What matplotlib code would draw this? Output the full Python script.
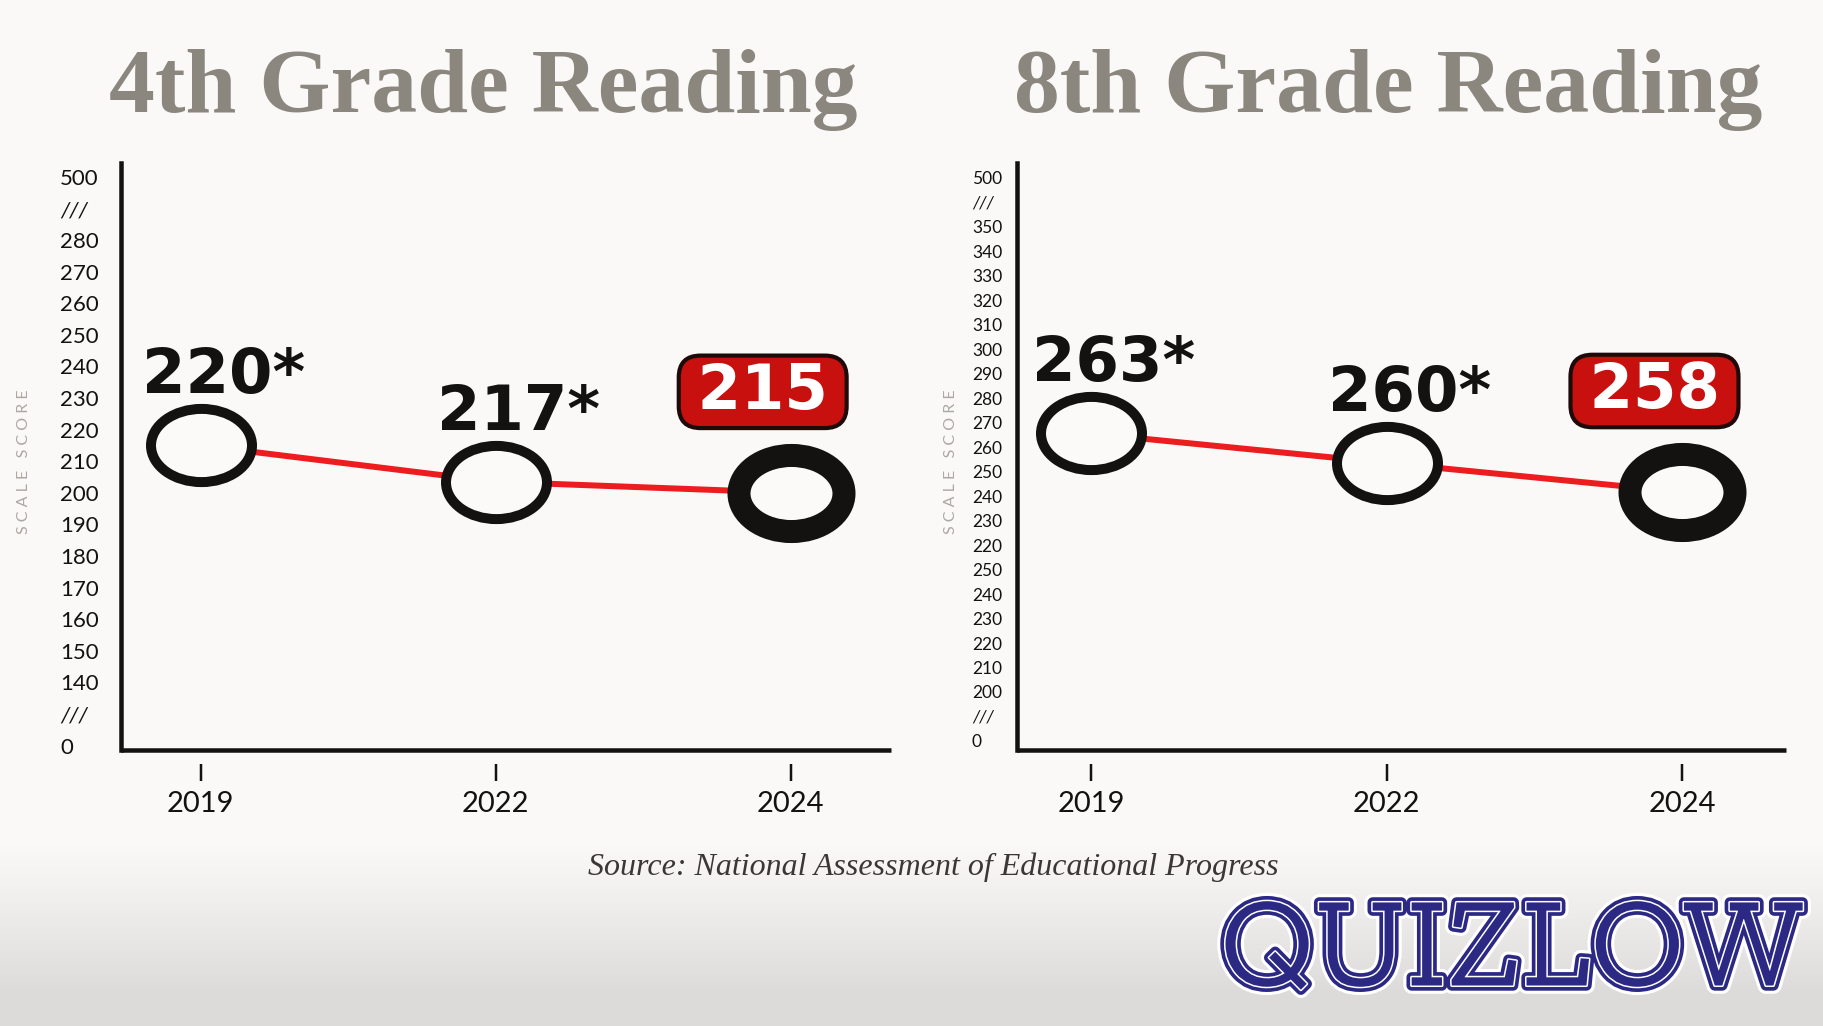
import numpy as np
import matplotlib
matplotlib.use('Agg')
import matplotlib.pyplot as plt
import matplotlib.patheffects as pe
from matplotlib.path import Path
from matplotlib.transforms import Affine2D

# --- data ---
years = ['2019', '2022', '2024']
g4_scores = ['220*', '217*', '215']
g8_scores = ['263*', '260*', '258']
# where the rings sit on the printed (broken, evenly spaced) scale, in tick-slot units
g4_pos = [9.5, 8.35, 8.0]
g8_pos = [12.56, 11.36, 10.17]
g4_ticks = ['0', '///', '140', '150', '160', '170', '180', '190', '200', '210',
            '220', '230', '240', '250', '260', '270', '280', '///', '500']
g8_ticks = ['0', '///', '200', '210', '220', '230', '240', '250', '220', '230',
            '240', '250', '260', '270', '280', '290', '300', '310', '320', '330',
            '340', '350', '///', '500']

W, H = 1824, 1026
BG = '#fbfaf8'
RED = '#ec1c1f'
INK = '#141210'
TITLE_GRAY = '#8b877f'
NUM_FONT = ['DejaVu Sans']
TICK_FONT = ['Lato', 'DejaVu Sans']

fig = plt.figure(figsize=(W / 100, H / 100), dpi=100)
fig.patch.set_facecolor(BG)

# paper background, greying towards the bottom like the photo
bg = fig.add_axes([0, 0, 1, 1], zorder=-10)
rows = np.linspace(0, 1, H)
shade = 0.985 - 0.12 * np.clip((rows - 0.82) / 0.15, 0, 1) ** 1.1
img = np.stack([shade, shade * 0.993, shade * 0.988], axis=-1)[:, None, :].repeat(8, axis=1)
bg.imshow(img, aspect='auto', extent=[0, 1, 0, 1], origin='upper')
bg.axis('off')

ring = Path.unit_circle().transformed(Affine2D().scale(1.38, 1.0))


def px(v):
    return v * 0.72


def draw_panel(rect, title, title_x, ticks, pos, labels, xlim, ylim, tick_size, label_pad):
    ax = fig.add_axes(rect)
    ax.set_facecolor('none')
    # move the tick line down first (this resets the ticks)
    ax.spines['bottom'].set_position(('outward', px(14)))
    ax.spines['bottom'].set_visible(False)
    for s in ['top', 'right']:
        ax.spines[s].set_visible(False)
    ax.spines['left'].set_linewidth(px(4.5))
    ax.spines['left'].set_color(INK)

    x = np.arange(len(years))
    ax.plot(x, pos, color=RED, lw=px(6), zorder=2, solid_capstyle='butt')
    for i in range(len(x)):
        last = i == len(x) - 1
        ax.plot(x[i], pos[i], marker=ring, ms=px(105 if last else 101),
                mew=px(23 if last else 10), mec=INK, mfc=BG, zorder=3, ls='none')
        if last:
            ax.annotate('\u2009' + labels[i] + '\u2009', (x[i], pos[i]), xytext=(px(-28), px(101)),
                        textcoords='offset points', ha='center', va='center',
                        fontsize=45, fontweight='bold', family=NUM_FONT, color='white',
                        zorder=4,
                        bbox=dict(boxstyle='round,pad=0.1,rounding_size=0.35',
                                  fc='#c8100f', ec='#1e0b09', lw=3))
        else:
            ax.annotate(labels[i], (x[i], pos[i]), xytext=(px(23), px(52)),
                        textcoords='offset points', ha='center', va='baseline',
                        fontsize=45, fontweight='bold', family=NUM_FONT, color=INK,
                        zorder=4)
    ax.set_xlim(*xlim)
    ax.set_ylim(*ylim)
    ax.set_xticks(x)
    ax.set_xticklabels(years, family=TICK_FONT, fontsize=21, color=INK)
    ax.set_yticks(np.arange(len(ticks)))
    ax.set_yticklabels(ticks, family=TICK_FONT, fontsize=tick_size, color=INK)
    for t in ax.get_yticklabels():
        t.set_ha('left')
        if t.get_text() == '///':
            t.set_fontstyle('italic')
    ax.tick_params(axis='y', length=0, pad=label_pad)
    ax.tick_params(axis='x', length=px(17), width=px(2.5), color=INK, pad=px(10))
    ax.plot([0, 1], [0, 0], transform=ax.transAxes, color=INK, lw=px(4.5),
            clip_on=False, solid_capstyle='butt')
    fig.text(title_x, 1 - 90 / H, title, ha='center', va='center', fontsize=66,
             fontweight='bold', family=['Liberation Serif', 'DejaVu Serif'], color=TITLE_GRAY)
    return ax


draw_panel([121 / W, 276 / H, 770 / W, 587 / H], '4th Grade Reading', 483 / W,
           g4_ticks, g4_pos, g4_scores, (-0.27, 2.34), (-0.14, 18.44), 16, px(61))
draw_panel([1017 / W, 276 / H, 769 / W, 587 / H], '8th Grade Reading', 1388 / W,
           g8_ticks, g8_pos, g8_scores, (-0.25, 2.35), (-0.37, 23.61), 12.5, px(45))

for sx in [24 / W, 951 / W]:
    fig.text(sx, 1 - 462 / H, 'S C A L E   S C O R E', rotation=90, ha='center', va='center',
             fontsize=11.5, color='#aca8a2', family=TICK_FONT)

fig.text(933 / W, 1 - 867 / H, 'Source: National Assessment of Educational Progress',
         ha='center', va='center', fontsize=23, style='italic',
         family=['Liberation Serif', 'DejaVu Serif'], color='#3b3735')

navy = '#2c2984'
fig.text(1512 / W, 1 - 955 / H, 'QUIZLOW', ha='center', va='center', fontsize=92,
         fontweight='normal', family=['Zilla Slab', 'DejaVu Serif'], color=navy,
         path_effects=[pe.Stroke(linewidth=12, foreground='white'),
                       pe.Stroke(linewidth=7.5, foreground=navy),
                       pe.Stroke(linewidth=2.2, foreground='white'),
                       pe.Normal()])

fig.savefig('out.png', dpi=100, facecolor=fig.get_facecolor())
